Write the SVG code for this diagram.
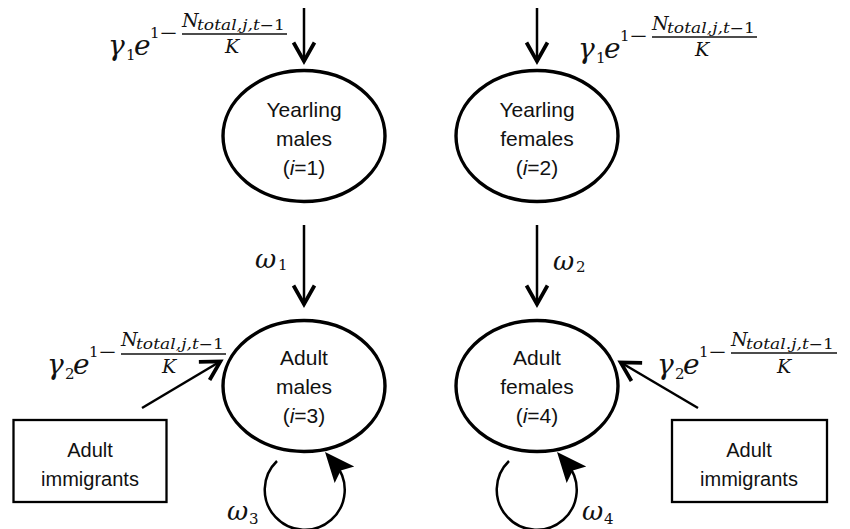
<svg xmlns="http://www.w3.org/2000/svg" width="850" height="529" viewBox="0 0 850 529">
<style>
.node{fill:#fff;stroke:#000;stroke-width:3.4}
.box{fill:#fff;stroke:#000;stroke-width:2.3}
.lbl{font-family:"Liberation Sans",Arial,sans-serif;font-size:21px;fill:#111;text-anchor:middle}
.blbl{font-family:"Liberation Sans",Arial,sans-serif;font-size:20px;fill:#111;text-anchor:middle}
.m{font-family:"DejaVu Serif",serif;font-style:italic;fill:#111}
.u{font-family:"DejaVu Serif",serif;font-style:normal;fill:#111}
.edge{fill:none;stroke:#000;stroke-width:2.5}
.bar{stroke:#111;stroke-width:1.5}
</style>
<defs>
<marker id="open" markerUnits="userSpaceOnUse" markerWidth="30" markerHeight="30" viewBox="-16 -10 20 20" refX="0" refY="0" orient="auto">
<path d="M-13 -7 L-0.5 0 L-13 7" fill="none" stroke="#000" stroke-width="2.5" stroke-linejoin="miter"/>
</marker>
<marker id="solid" markerUnits="userSpaceOnUse" markerWidth="40" markerHeight="40" viewBox="-14 -12 28 24" refX="0" refY="0" orient="auto">
<path d="M11 0 L-10 -9 L-6 0 L-10 9 Z" fill="#000"/>
</marker>
</defs>

<g id="connectors">
<line class="edge" x1="304" y1="8" x2="304" y2="62" marker-end="url(#open)"/>
<line class="edge" x1="537" y1="8" x2="537" y2="62" marker-end="url(#open)"/>
<line class="edge" x1="304" y1="225" x2="304" y2="305" marker-end="url(#open)"/>
<line class="edge" x1="537" y1="225" x2="537" y2="305" marker-end="url(#open)"/>
<line class="edge" x1="142" y1="408" x2="221" y2="361" marker-end="url(#open)"/>
<line class="edge" x1="698" y1="408" x2="620" y2="362" marker-end="url(#open)"/>
<path class="edge" d="M277 461 A40 40 0 1 0 335.2 463.9" marker-end="url(#solid)"/>
<path class="edge" d="M509 461 A40 40 0 1 0 567.2 463.9" marker-end="url(#solid)"/>
</g>

<g id="yearling-males">
<ellipse class="node" cx="304" cy="136" rx="81" ry="65.5"/>
<text class="lbl" x="304" y="117">Yearling</text>
<text class="lbl" x="304" y="146">males</text>
<text class="lbl" x="304" y="175">(<tspan font-style="italic">i</tspan>=1)</text>
</g>
<g id="yearling-females">
<ellipse class="node" cx="537" cy="136" rx="81" ry="65.5"/>
<text class="lbl" x="537" y="117">Yearling</text>
<text class="lbl" x="537" y="146">females</text>
<text class="lbl" x="537" y="175">(<tspan font-style="italic">i</tspan>=2)</text>
</g>
<g id="adult-males">
<ellipse class="node" cx="304" cy="386" rx="81" ry="65.5"/>
<text class="lbl" x="304" y="365">Adult</text>
<text class="lbl" x="304" y="394">males</text>
<text class="lbl" x="304" y="423">(<tspan font-style="italic">i</tspan>=3)</text>
</g>
<g id="adult-females">
<ellipse class="node" cx="537" cy="386" rx="81" ry="65.5"/>
<text class="lbl" x="537" y="365">Adult</text>
<text class="lbl" x="537" y="394">females</text>
<text class="lbl" x="537" y="423">(<tspan font-style="italic">i</tspan>=4)</text>
</g>
<g id="immigrants-left">
<rect class="box" x="13.5" y="420" width="153" height="82"/>
<text class="blbl" x="90" y="457">Adult</text>
<text class="blbl" x="90" y="486">immigrants</text>
</g>
<g id="immigrants-right">
<rect class="box" x="672" y="420" width="155" height="82"/>
<text class="blbl" x="749" y="457">Adult</text>
<text class="blbl" x="749" y="486">immigrants</text>
</g>

<g id="formula-top-left" transform="translate(108,55)">
<text class="m" x="0" y="0" font-size="28">γ</text>
<text class="u" x="18" y="5" font-size="15">1</text>
<text class="m" x="26" y="0" font-size="28">e</text>
<text class="u" x="42" y="-17" font-size="15">1</text>
<text class="u" x="51" y="-17" font-size="15" textLength="19" lengthAdjust="spacingAndGlyphs">−</text>
<text class="m" x="74" y="-28" font-size="19">N</text>
<text class="m" x="89" y="-25" font-size="14" textLength="88" lengthAdjust="spacingAndGlyphs">total,j,t<tspan font-style="normal">−1</tspan></text>
<line class="bar" x1="74" y1="-21" x2="179" y2="-21"/>
<text class="m" x="124" y="-2" font-size="19" text-anchor="middle">K</text>
</g>
<g id="formula-top-right" transform="translate(578,58)">
<text class="m" x="0" y="0" font-size="28">γ</text>
<text class="u" x="18" y="5" font-size="15">1</text>
<text class="m" x="26" y="0" font-size="28">e</text>
<text class="u" x="42" y="-17" font-size="15">1</text>
<text class="u" x="51" y="-17" font-size="15" textLength="19" lengthAdjust="spacingAndGlyphs">−</text>
<text class="m" x="74" y="-28" font-size="19">N</text>
<text class="m" x="89" y="-25" font-size="14" textLength="88" lengthAdjust="spacingAndGlyphs">total,j,t<tspan font-style="normal">−1</tspan></text>
<line class="bar" x1="74" y1="-21" x2="179" y2="-21"/>
<text class="m" x="124" y="-2" font-size="19" text-anchor="middle">K</text>
</g>
<g id="formula-bottom-left" transform="translate(47,374)">
<text class="m" x="0" y="0" font-size="28">γ</text>
<text class="u" x="18" y="5" font-size="15">2</text>
<text class="m" x="26" y="0" font-size="28">e</text>
<text class="u" x="42" y="-17" font-size="15">1</text>
<text class="u" x="51" y="-17" font-size="15" textLength="19" lengthAdjust="spacingAndGlyphs">−</text>
<text class="m" x="74" y="-28" font-size="19">N</text>
<text class="m" x="89" y="-25" font-size="14" textLength="88" lengthAdjust="spacingAndGlyphs">total,j,t<tspan font-style="normal">−1</tspan></text>
<line class="bar" x1="74" y1="-20" x2="179" y2="-20"/>
<text class="m" x="122" y="-1" font-size="19" text-anchor="middle">K</text>
</g>
<g id="formula-bottom-right" transform="translate(657,374)">
<text class="m" x="0" y="0" font-size="28">γ</text>
<text class="u" x="18" y="5" font-size="15">2</text>
<text class="m" x="26" y="0" font-size="28">e</text>
<text class="u" x="42" y="-17" font-size="15">1</text>
<text class="u" x="51" y="-17" font-size="15" textLength="19" lengthAdjust="spacingAndGlyphs">−</text>
<text class="m" x="74" y="-28" font-size="19">N</text>
<text class="m" x="89" y="-25" font-size="14" textLength="88" lengthAdjust="spacingAndGlyphs">total.j,t<tspan font-style="normal">−1</tspan></text>
<line class="bar" x1="74" y1="-21" x2="180" y2="-21"/>
<text class="m" x="127" y="-1" font-size="19" text-anchor="middle">K</text>
</g>

<g id="omega-labels">
<text class="m" x="255" y="268" font-size="26">ω</text><text class="u" x="278" y="270" font-size="15">1</text>
<text class="m" x="553" y="270" font-size="26">ω</text><text class="u" x="576" y="272" font-size="15">2</text>
<text class="m" x="227" y="520" font-size="26">ω</text><text class="u" x="249" y="524" font-size="15">3</text>
<text class="m" x="582" y="520" font-size="26">ω</text><text class="u" x="604" y="524" font-size="15">4</text>
</g>
</svg>
